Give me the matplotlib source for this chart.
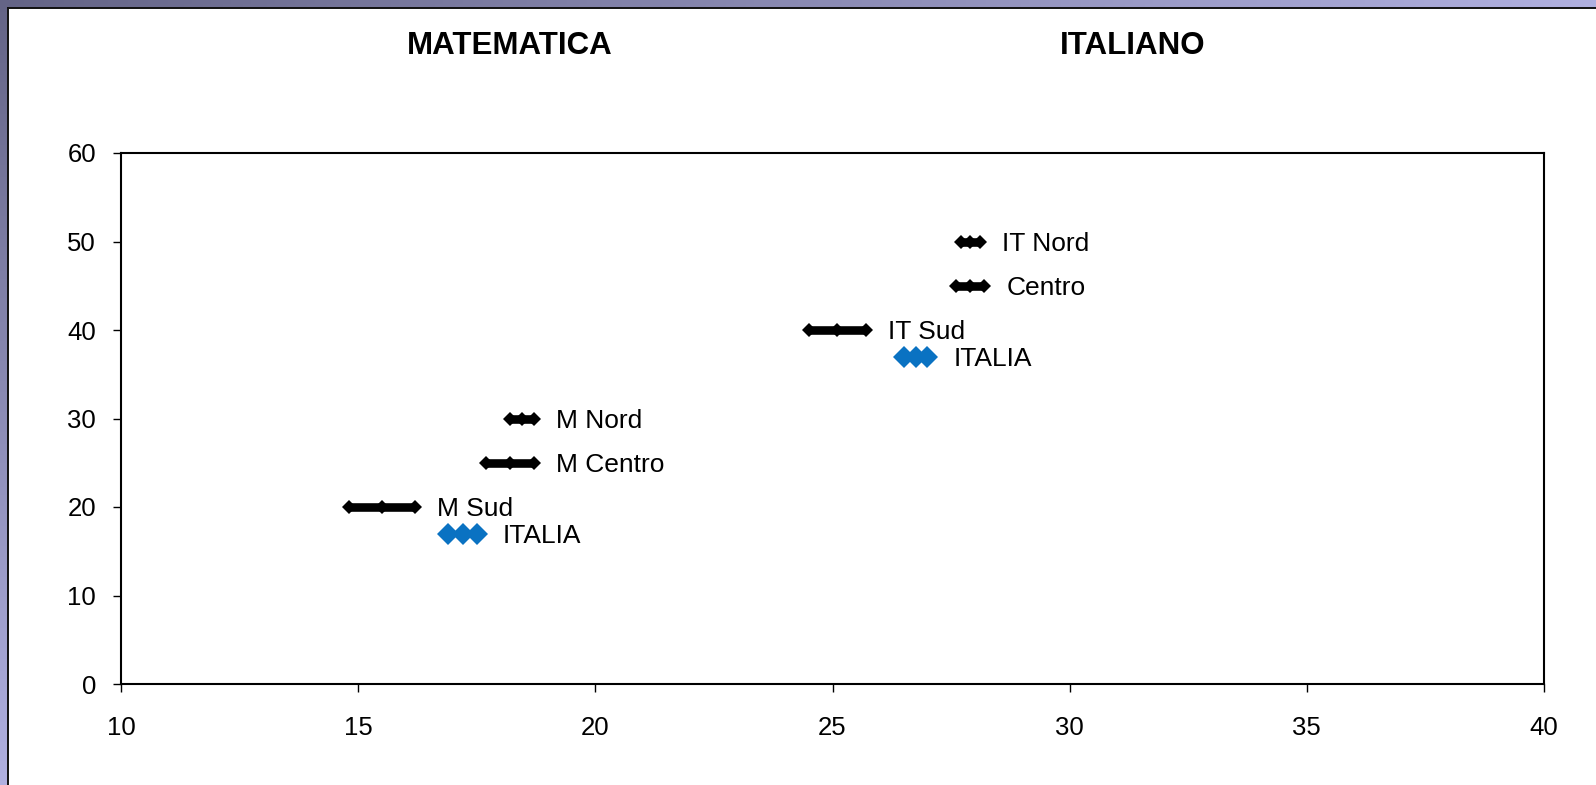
import numpy as np
import matplotlib
matplotlib.use("Agg")
import matplotlib.pyplot as plt
from matplotlib.patches import Rectangle
from matplotlib.lines import Line2D

plt.rcParams['font.family'] = ['Liberation Sans', 'DejaVu Sans']

# ---- data ----
series_names = ["M Sud", "M Centro", "M Nord", "ITALIA",
                "IT Sud", "Centro", "IT Nord", "ITALIA"]
series_x = [
    [14.8, 15.5, 16.2],
    [17.7, 18.2, 18.7],
    [18.2, 18.45, 18.7],
    [16.9, 17.2, 17.5],
    [24.5, 25.1, 25.7],
    [27.6, 27.9, 28.2],
    [27.7, 27.9, 28.1],
    [26.5, 26.75, 27.0],
]
series_y = [20, 25, 30, 17, 40, 45, 50, 37]
series_is_total = [False, False, False, True, False, False, False, True]
panel_titles = ["MATEMATICA", "ITALIANO"]
x_ticks = [10, 15, 20, 25, 30, 35, 40]
y_ticks = [0, 10, 20, 30, 40, 50, 60]

# ---- figure ----
W, H = 1596, 785
fig = plt.figure(figsize=(W / 100, H / 100), dpi=100)

# gradient background frame
bg = fig.add_axes([0, 0, 1, 1])
bg.set_axis_off()
xx, yy = np.meshgrid(np.linspace(0, 1, 400), np.linspace(0, 1, 200))
t = np.clip(xx * 1.0 + yy * 1.0, 0, 1)
dark = np.array([0x64, 0x64, 0x86]) / 255
light = np.array([0xb0, 0xb0, 0xe0]) / 255
img = dark[None, None, :] * (1 - t[..., None]) + light[None, None, :] * t[..., None]
bg.imshow(img, extent=[0, W, H, 0], aspect='auto', origin='upper')
bg.set_xlim(0, W)
bg.set_ylim(H, 0)
bg.add_patch(Rectangle((7.5, 7.5), W, H, facecolor='white', edgecolor='none'))
bg.add_line(Line2D([7.5, 7.5], [7.5, H], color='#111111', lw=1.4))
bg.add_line(Line2D([7.5, W], [7.5, 7.5], color='#111111', lw=1.4))

# main axes
L, R, T, B = 121, 1544, 153, 684
ax = fig.add_axes([L / W, 1 - B / H, (R - L) / W, (B - T) / H])
ax.set_xlim(10, 40)
ax.set_ylim(0, 60)
ax.set_xticks(x_ticks)
ax.set_yticks(y_ticks)
ax.set_xticklabels([str(v) for v in x_ticks])
ax.set_yticklabels([str(v) for v in y_ticks])
for s in ax.spines.values():
    s.set_linewidth(1.5)
    s.set_color('black')
ax.tick_params(axis='both', direction='out', length=6, width=1.0, labelsize=18.5, colors='black')
ax.tick_params(axis='x', pad=17)
ax.tick_params(axis='y', pad=12)
ax.set_facecolor('white')

blue = '#0A72C2'
for name, xs, y, tot in zip(series_names, series_x, series_y, series_is_total):
    ys = [y] * len(xs)
    if tot:
        ax.plot(xs, ys, color=blue, lw=4, marker='D', markersize=11.5,
                markeredgewidth=0, markerfacecolor=blue, solid_capstyle='butt')
        half = 10.5
    else:
        ax.plot(xs, ys, color='black', lw=6.2, marker='D', markersize=6.8,
                markeredgewidth=0, markerfacecolor='black', solid_capstyle='butt')
        half = 6.5
    dx = (half + 15.5) * 72 / 100
    ax.annotate(name, xy=(xs[-1], y), xytext=(dx, -6.8), textcoords='offset points',
                ha='left', va='baseline', fontsize=19, color='black')

# panel titles
fig.text(510 / W, 1 - 46 / H, panel_titles[0], ha='center', va='center',
         fontsize=22.5, fontweight='bold', color='black')
fig.text(1133 / W, 1 - 46 / H, panel_titles[1], ha='center', va='center',
         fontsize=22.5, fontweight='bold', color='black')

fig.savefig('out.png', dpi=100)
